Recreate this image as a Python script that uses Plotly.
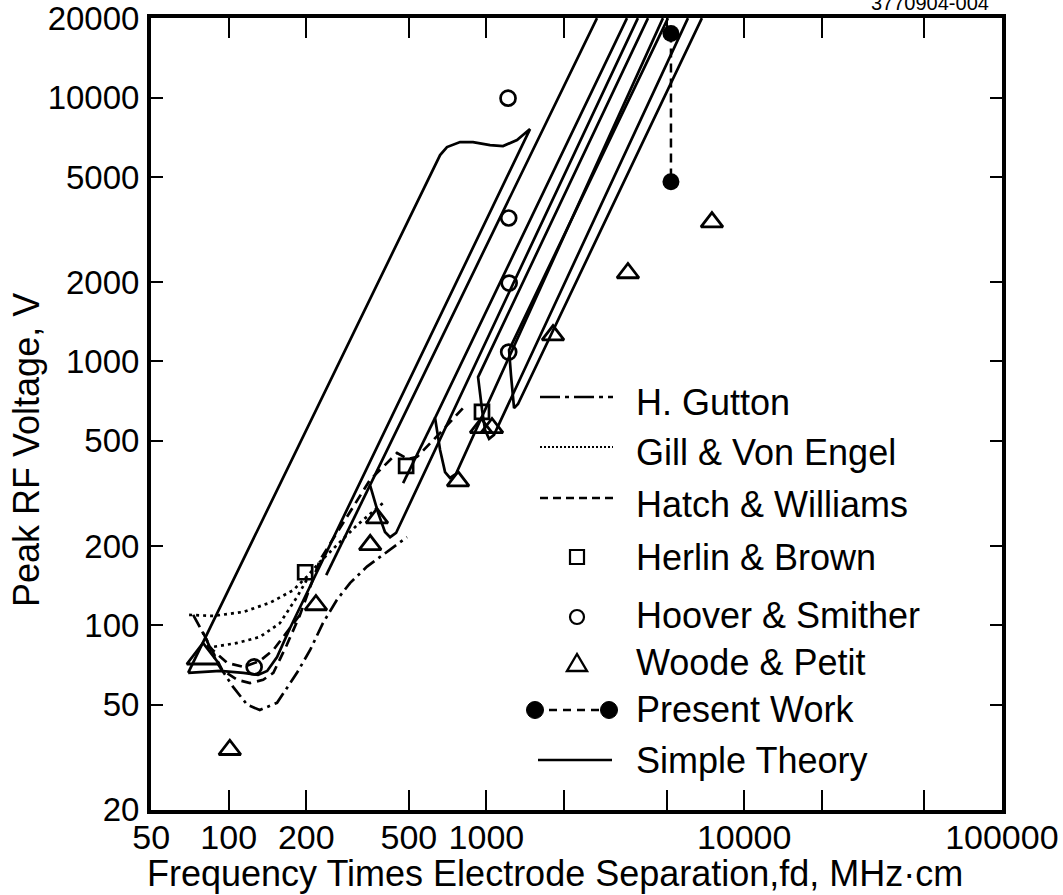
import math
import plotly.graph_objects as go

# ---------------- data (fd in MHz·cm, peak RF voltage in V) ----------------
woode_fd = [101, 79.5, 218, 354, 376, 776, 953, 1051, 1813, 3541, 7500]
woode_v = [33.8, 75.9, 119.5, 202, 255, 352, 560, 560, 1259, 2164, 3374]

hoover_fd = [125.5, 1213, 1220, 1225, 1220]
hoover_v = [69.6, 9950, 3497, 1982, 1086]

herlin_fd = [198, 488, 961]
herlin_v = [159, 402, 644]

present_fd = [5200, 5200]
present_v = [17500, 4800]

gutton_fd = [72.8, 81.0, 90.2, 104, 118, 132, 154, 184, 207, 232, 263, 296, 344, 397, 492]
gutton_v = [109.6, 90.4, 72.1, 58.5, 50.0, 47.8, 50.9, 66.1, 80.7, 102, 125, 145, 167, 185, 216]

gill_upper_fd = [70.2, 87.0, 114, 145, 178, 201, 226, 263, 315, 397]
gill_upper_v = [109.6, 108.6, 112.5, 122, 136, 153, 174, 202, 240, 291]
gill_lower_fd = [82.5, 108, 132, 158, 184, 201]
gill_lower_v = [82.2, 85.8, 90.4, 102, 128, 149]

hatch_lower_fd = [79.6, 94.3, 108, 121, 136, 149, 168, 189, 226, 283, 353.5, 450, 496, 538, 661, 811]
hatch_lower_v = [93.7, 67.8, 62.2, 60.5, 62.2, 66.1, 84.3, 109.6, 177, 251, 356, 450, 427, 435, 536, 666]
hatch_upper_fd = [82.5, 98.6, 114, 132, 149, 168, 189]
hatch_upper_v = [84.3, 72.1, 69.6, 73.3, 80.7, 94.5, 109.6]

theory_loop_fd = [69.6, 661, 703, 790, 887, 1033, 1160, 1314, 1476, 173, 154, 141, 130, 114, 92.6, 79.6, 69.6]
theory_loop_v = [66.1, 6056, 6494, 6784, 6784, 6606, 6550, 6902, 7596, 97.8, 75.9, 67.2, 64.9, 66.1, 67.2, 66.6, 66.1]

theory_h1_fd = [2685, 353.5, 380, 404, 423, 446, 3870]
theory_h1_v = [20000, 340, 267, 226, 216, 224, 20000]
theory_h1_tail_fd = [353.5, 239]
theory_h1_tail_v = [340, 155]

theory_h2_fd = [3510, 632, 661, 691, 722, 762, 4841]
theory_h2_v = [20000, 611, 462, 381, 362, 375, 20000]
theory_h2_tail_fd = [632, 475]
theory_h2_tail_v = [611, 346]

theory_h3_fd = [4236, 928, 962, 988, 1024, 1070, 6053]
theory_h3_v = [20000, 873, 655, 550, 509, 527, 20000]

theory_h4_fd = [5063, 1224, 1245, 1268, 1280, 1326, 6856]
theory_h4_v = [20000, 1105, 889, 715, 666, 690, 20000]

x_tick_vals = [50, 100, 200, 500, 1000, 2000, 5000, 10000, 20000, 50000, 100000]
x_tick_text = ["50", "100", "200", "500", "1000", "", "", "10000", "", "", "100000"]
y_tick_vals = [20, 50, 100, 200, 500, 1000, 2000, 5000, 10000, 20000]
y_tick_text = ["20", "50", "100", "200", "500", "1000", "2000", "5000", "10000", "20000"]

legend_labels = ["H. Gutton", "Gill & Von Engel", "Hatch & Williams", "Herlin & Brown",
                 "Hoover & Smither", "Woode & Petit", "Present Work", "Simple Theory"]

# ---------------- figure ----------------
W, H = 1063, 895
ML, MR, MT, MB = 151, 61, 18, 85
PW, PH = W - ML - MR, H - MT - MB
FONT = "Liberation Sans, Arial, Helvetica, sans-serif"
LW = 2.7


def px(xp):
    return (xp - ML) / PW


def py(yp):
    return (H - MB - yp) / PH


fig = go.Figure()


def line(xs, ys, dash="solid", width=LW):
    fig.add_trace(go.Scatter(x=xs, y=ys, mode="lines", showlegend=False,
                             line=dict(color="black", width=width, dash=dash)))


for xs, ys in [(theory_loop_fd, theory_loop_v), (theory_h1_fd, theory_h1_v),
               (theory_h1_tail_fd, theory_h1_tail_v), (theory_h2_fd, theory_h2_v),
               (theory_h2_tail_fd, theory_h2_tail_v), (theory_h3_fd, theory_h3_v),
               (theory_h4_fd, theory_h4_v)]:
    line(xs, ys)

line(gutton_fd, gutton_v, dash="14px,5px,3px,5px")
line(gill_upper_fd, gill_upper_v, dash="3px,4px")
line(gill_lower_fd, gill_lower_v, dash="3px,4px")
line(hatch_lower_fd, hatch_lower_v, dash="10px,6px")
line(hatch_upper_fd, hatch_upper_v, dash="10px,6px")

mk_line = dict(color="black", width=2.7)
fig.add_trace(go.Scatter(x=herlin_fd, y=herlin_v, mode="markers", showlegend=False,
                         marker=dict(symbol="square-open", size=14, color="black", opacity=1,
                                     line=mk_line)))
fig.add_trace(go.Scatter(x=hoover_fd, y=hoover_v, mode="markers", showlegend=False,
                         marker=dict(symbol="circle-open", size=15, color="black", opacity=1,
                                     line=mk_line)))
woode_sizes = [19] * len(woode_fd)
woode_sizes[1] = 28
fig.add_trace(go.Scatter(x=woode_fd, y=woode_v, mode="markers", showlegend=False,
                         marker=dict(symbol="triangle-up-open", size=woode_sizes, color="black",
                                     opacity=1, line=dict(color="black", width=2.8))))
fig.add_trace(go.Scatter(x=present_fd, y=present_v, mode="lines+markers", showlegend=False,
                         line=dict(color="black", width=2.5, dash="9px,6px"),
                         marker=dict(symbol="circle", size=17, color="black", opacity=1)))

# ---------------- legend (drawn manually) ----------------
shapes = []
ann = []
leg_y = [402, 452, 505, 557, 615, 662, 709, 760]
sample_y = [397, 447, 498, 557, 617, 663, 710, 760]
dashes = ["20px,5px,4px,5px", "2px,2px", "8px,5px"]
for i in range(3):
    shapes.append(dict(type="line", xref="paper", yref="paper",
                       x0=px(540), x1=px(613), y0=py(sample_y[i]), y1=py(sample_y[i]),
                       line=dict(color="black", width=2.5 if i != 1 else 2, dash=dashes[i])))
# square
cx, cy, s = 577, sample_y[3], 7
shapes.append(dict(type="rect", xref="paper", yref="paper", x0=px(cx - s), x1=px(cx + s),
                   y0=py(cy + s), y1=py(cy - s), line=dict(color="black", width=2.2)))
# circle
cx, cy, s = 577, sample_y[4], 7
shapes.append(dict(type="circle", xref="paper", yref="paper", x0=px(cx - s), x1=px(cx + s),
                   y0=py(cy + s), y1=py(cy - s), line=dict(color="black", width=2.2)))
# triangle
cx, cy = 577, sample_y[5]
shapes.append(dict(type="path", xref="paper", yref="paper",
                   path="M {} {} L {} {} L {} {} Z".format(px(cx - 10), py(cy + 8), px(cx + 10), py(cy + 8),
                                                         px(cx), py(cy - 9)),
                   line=dict(color="black", width=2.4)))
# present work
cy = sample_y[6]
shapes.append(dict(type="line", xref="paper", yref="paper", x0=px(535), x1=px(609),
                   y0=py(cy), y1=py(cy), line=dict(color="black", width=2.5, dash="8px,6px")))
for cx in (535, 609):
    shapes.append(dict(type="circle", xref="paper", yref="paper", x0=px(cx - 8.5), x1=px(cx + 8.5),
                       y0=py(cy + 8.5), y1=py(cy - 8.5), fillcolor="black",
                       line=dict(color="black", width=1)))
# simple theory
cy = sample_y[7]
shapes.append(dict(type="line", xref="paper", yref="paper", x0=px(538), x1=px(612),
                   y0=py(cy), y1=py(cy), line=dict(color="black", width=2.5)))

for lab, yy in zip(legend_labels, leg_y):
    ann.append(dict(text=lab, xref="paper", yref="paper", x=px(634), y=py(yy),
                    xanchor="left", yanchor="middle", showarrow=False,
                    font=dict(family=FONT, size=36, color="black")))

# axis titles and code number
ann.append(dict(text="Frequency Times Electrode Separation,fd, MHz·cm", xref="paper", yref="paper",
                x=px(555), y=py(873), xanchor="center", yanchor="middle", showarrow=False,
                font=dict(family=FONT, size=36, color="black")))
ann.append(dict(text="Peak RF Voltage, V", xref="paper", yref="paper", textangle=-90,
                x=px(27), y=py(450), xanchor="center", yanchor="middle", showarrow=False,
                font=dict(family=FONT, size=36, color="black")))
ann.append(dict(text="3770904-004", xref="paper", yref="paper", x=px(991), y=py(16),
                xanchor="right", yanchor="bottom", showarrow=False,
                font=dict(family=FONT, size=20, color="black")))

axis_common = dict(type="log", showgrid=False, zeroline=False, showline=True, linewidth=4,
                   linecolor="black", mirror="ticks", ticks="inside", tickwidth=2,
                   tickcolor="black", ticklabeloverflow="allow", automargin=False)

fig.update_layout(
    width=W, height=H, margin=dict(l=ML, r=MR, t=MT, b=MB),
    paper_bgcolor="white", plot_bgcolor="white", showlegend=False,
    xaxis=dict(range=[math.log10(50) - 0.0005, 5.0005], tickmode="array",
               tickvals=x_tick_vals, ticktext=x_tick_text, ticklen=20, ticklabelstandoff=-6,
               tickfont=dict(family=FONT, size=34, color="black"), **axis_common),
    yaxis=dict(range=[math.log10(20) - 0.0005, math.log10(20000) + 0.0005], tickmode="array",
               tickvals=y_tick_vals, ticktext=y_tick_text, ticklen=12, ticklabelstandoff=1,
               tickfont=dict(family=FONT, size=33, color="black"), **axis_common),
    shapes=shapes, annotations=ann,
)

fig.write_html("out.html")
